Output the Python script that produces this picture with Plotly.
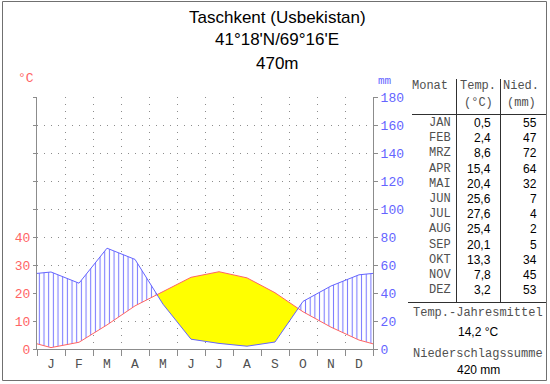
import numpy as np
import plotly.graph_objects as go

# ---------------- data ----------------
month_letters = ['J', 'F', 'M', 'A', 'M', 'J', 'J', 'A', 'S', 'O', 'N', 'D']
table_months = ['JAN', 'FEB', 'MRZ', 'APR', 'MAI', 'JUN', 'JUL', 'AUG', 'SEP', 'OKT', 'NOV', 'DEZ']
temperature = [0.5, 2.4, 8.6, 15.4, 20.4, 25.6, 27.6, 25.4, 20.1, 13.3, 7.8, 3.2]
precipitation = [55, 47, 72, 64, 32, 7, 4, 2, 5, 34, 45, 53]
temp_ticks = [0, 10, 20, 30, 40, 50, 60, 70, 80, 90]
temp_ticklabels = ['0', '10', '20', '30', '40', '', '', '', '', '']
precip_ticks = [0, 20, 40, 60, 80, 100, 120, 140, 160, 180]
title_lines = ['Taschkent (Usbekistan)', "41°18'N/69°16'E", '470m']

# ---------------- derived series ----------------
W, H = 550, 384
def px(x): return x / W
def py(y): return 1 - y / H

n = len(temperature)
xm = [i + 0.5 for i in range(n)]
t_edge = (temperature[-1] + temperature[0]) / 2
p_edge = (precipitation[-1] + precipitation[0]) / 2
xe = [0] + xm + [n]
te = [t_edge] + temperature + [t_edge]
pe = [p_edge] + precipitation + [p_edge]
ps = [p / 2 for p in pe]  # precipitation on the temperature scale (10 °C = 20 mm)

# refine with crossing points
xr, tr, pr = [xe[0]], [te[0]], [ps[0]]
for i in range(len(xe) - 1):
    d0 = ps[i] - te[i]
    d1 = ps[i + 1] - te[i + 1]
    if d0 * d1 < 0:
        f = d0 / (d0 - d1)
        xc = xe[i] + f * (xe[i + 1] - xe[i])
        tc = te[i] + f * (te[i + 1] - te[i])
        xr.append(xc); tr.append(tc); pr.append(tc)
    xr.append(xe[i + 1]); tr.append(te[i + 1]); pr.append(ps[i + 1])
tr = np.array(tr); pr = np.array(pr)
humid_upper = np.maximum(tr, pr)
arid_lower = np.minimum(tr, pr)

RED = '#ff6464'
BLUE = '#6464ff'
GRID = '#8c8c8c'
MONO = 'Liberation Mono'
SANS = 'Liberation Sans'

fig = go.Figure()
# humid (hatched)
fig.add_trace(go.Scatter(x=xr, y=tr, mode='lines', line=dict(width=0), hoverinfo='skip', showlegend=False))
fig.add_trace(go.Scatter(x=xr, y=humid_upper, mode='lines', line=dict(width=0), fill='tonexty',
                         fillcolor='white',
                         fillpattern=dict(shape='|', fgcolor='#7878ff', bgcolor='white', size=4.67, solidity=0.22),
                         hoverinfo='skip', showlegend=False))
# arid (yellow)
fig.add_trace(go.Scatter(x=xr, y=arid_lower, mode='lines', line=dict(width=0), hoverinfo='skip', showlegend=False))
fig.add_trace(go.Scatter(x=xr, y=tr, mode='lines', line=dict(width=0), fill='tonexty',
                         fillcolor='#ffff00', hoverinfo='skip', showlegend=False))
# lines
fig.add_trace(go.Scatter(x=xe, y=te, mode='lines', line=dict(color=RED, width=1), showlegend=False))
fig.add_trace(go.Scatter(x=xe, y=pe, mode='lines', line=dict(color=BLUE, width=1), yaxis='y2', showlegend=False))

fig.update_layout(
    template='none',
    width=W, height=H,
    margin=dict(l=0, r=0, t=0, b=0, pad=0, autoexpand=False),
    paper_bgcolor='white', plot_bgcolor='white',
    showlegend=False,
    xaxis=dict(domain=[px(37), px(373)], range=[0, n], tickmode='array', tickvals=xm, ticktext=month_letters,
               ticks='', showgrid=False, zeroline=False, showline=True, linecolor=GRID, linewidth=1,
               automargin=False,
               tickfont=dict(family=MONO, size=13, color='#505050'), ticklabelstandoff=2,
               minor=dict(tickmode='array', tickvals=list(range(n + 1)), ticks='outside', ticklen=6,
                          tickcolor=GRID, showgrid=True, gridcolor=GRID, griddash='1px,6px', gridwidth=1),
               fixedrange=True),
    yaxis=dict(domain=[1 - 349 / H, 1 - 97 / H], range=[0, 90], tickmode='array', tickvals=temp_ticks,
               ticktext=temp_ticklabels, ticks='outside', ticklen=3, tickcolor=GRID,
               showgrid=True, gridcolor=GRID, griddash='1px,6px', gridwidth=1, zeroline=False,
               showline=True, linecolor=GRID, linewidth=1, automargin=False,
               tickfont=dict(family=MONO, size=13, color=RED), fixedrange=True),
    yaxis2=dict(overlaying='y', side='right', range=[0, 180], tickmode='array', tickvals=precip_ticks,
                ticks='outside', ticklen=4, tickcolor=GRID, showgrid=False, zeroline=False,
                showline=True, linecolor=GRID, linewidth=1, automargin=False,
                tickfont=dict(family=MONO, size=13, color=BLUE), fixedrange=True),
)

def note(text, x, y, font, xanchor='center'):
    return dict(x=px(x), y=py(y), xref='paper', yref='paper', text=text, showarrow=False,
                xanchor=xanchor, yanchor='middle', font=font)

ann = []
for i, line in enumerate(title_lines):
    ann.append(note(line, 277, 17 + 23 * i, dict(family=SANS, size=17, color='black')))
ann.append(note('°C', 26, 78, dict(family=MONO, size=13, color=RED)))
ann.append(note('mm', 385, 81, dict(family=MONO, size=11, color=BLUE)))

grey_mono = dict(family=MONO, size=12, color='#505050')
black_sans = dict(family=SANS, size=12, color='black')
for txt, x, y in [('Monat', 430, 86), ('Temp.', 478, 86), ('(°C)', 478, 103),
                  ('Nied.', 521, 86), ('(mm)', 521, 103)]:
    ann.append(note(txt, x, y, grey_mono))

def fmt(v):
    return f'{v:.1f}'.replace('.', ',')

for i in range(n):
    y = 123 + i * 15.2
    ann.append(note(table_months[i], 440, y, grey_mono))
    ann.append(note(fmt(temperature[i]), 493, y, black_sans, 'right'))
    ann.append(note(str(precipitation[i]), 539, y, black_sans, 'right'))

mean_t = sum(temperature) / n
sum_p = sum(precipitation)
ann.append(note('Temp.-Jahresmittel', 478, 313, grey_mono))
ann.append(note(f'{fmt(mean_t)} °C', 478, 332, black_sans))
ann.append(note('Niederschlagssumme', 478, 354, grey_mono))
ann.append(note(f'{sum_p} mm', 478, 370, black_sans))
fig.update_layout(annotations=ann)

shapes = []
line_style = dict(color='#303030', width=1)
shapes.append(dict(type='line', xref='paper', yref='paper', x0=px(412), x1=px(546), y0=py(114.5), y1=py(114.5), line=line_style))
shapes.append(dict(type='line', xref='paper', yref='paper', x0=px(408), x1=px(546), y0=py(302.5), y1=py(302.5), line=line_style))
for xs in (456.5, 500.5):
    shapes.append(dict(type='line', xref='paper', yref='paper', x0=px(xs), x1=px(xs), y0=py(79), y1=py(302.5), line=line_style))
shapes.append(dict(type='rect', xref='paper', yref='paper', x0=px(2.5), x1=px(546.5), y0=py(380.5), y1=py(1.5),
                   line=dict(color='#707070', width=1)))
fig.update_layout(shapes=shapes)

fig.write_html('out.html', config={'displayModeBar': False},
               post_script="document.body.style.margin='0px';document.body.style.padding='0px';")
